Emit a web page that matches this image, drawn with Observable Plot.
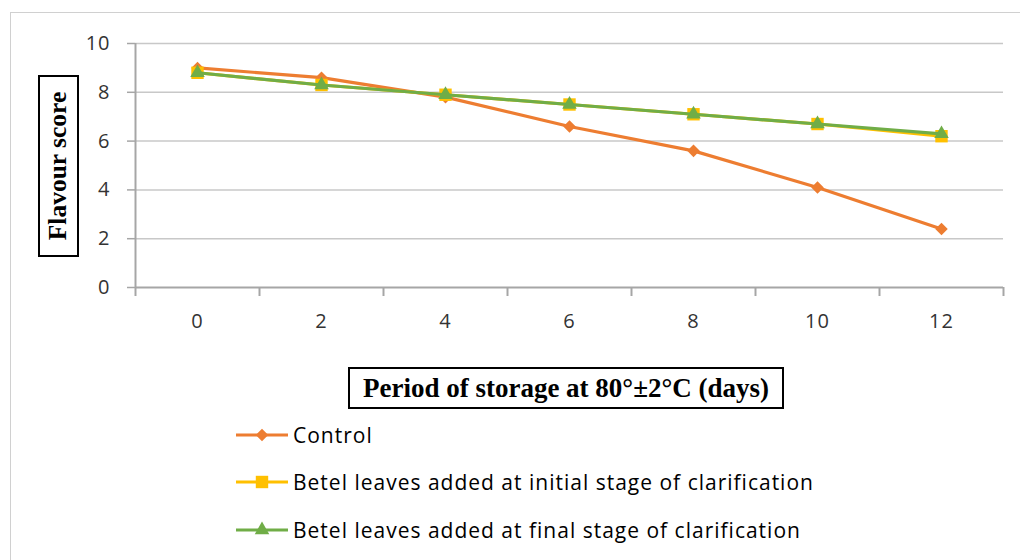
<!DOCTYPE html>
<html>
<head>
<meta charset="utf-8">
<script src="https://cdn.jsdelivr.net/npm/d3@7"></script>
<script src="https://cdn.jsdelivr.net/npm/@observablehq/plot@0.6"></script>
<style>
  html, body { margin: 0; padding: 0; background: #fff; }
  #wrap { position: relative; width: 1020px; height: 560px; overflow: hidden; }
  #frame { position: absolute; left: 10px; top: 12px; width: 1040px; height: 600px; border: 1.5px solid #d0d0d0; box-sizing: border-box; }
  #chart { position: absolute; left: 0; top: 0; }
  #chart svg text { letter-spacing: 1px; }
  .box { position: absolute; border: 2px solid #000; box-sizing: border-box; background: #fff;
         font-family: "Liberation Serif", "Times New Roman", serif; font-weight: bold; color: #000;
         display: flex; align-items: center; justify-content: center; white-space: nowrap; }
  #ytitle { left: 38px; top: 75px; width: 41px; height: 182px; }
  #ytitle span { transform: rotate(-90deg); font-size: 25.5px; display: inline-block; }
  #xtitle { left: 348px; top: 367px; width: 436px; height: 42px; font-size: 27px; }
  #legend { position: absolute; left: 234px; top: 411px; font-family: "Open Sans", sans-serif; font-size: 21px; letter-spacing: 1px; color: #000; }
  .item { display: flex; align-items: center; height: 47.5px; }
  .item svg { margin-right: 3px; }
</style>
</head>
<body>
<div id="wrap">
  <div id="frame"></div>
  <div id="chart"></div>
  <div id="ytitle" class="box"><span>Flavour score</span></div>
  <div id="xtitle" class="box">Period of storage at 80°±2°C (days)</div>
  <div id="legend"></div>
</div>
<script>
const days = [0, 2, 4, 6, 8, 10, 12];
const control = [9.0, 8.6, 7.8, 6.6, 5.6, 4.1, 2.4];
const initialStage = [8.8, 8.3, 7.9, 7.5, 7.1, 6.7, 6.2];
const finalStage = [8.8, 8.3, 7.9, 7.5, 7.1, 6.7, 6.3];
const seriesNames = [
  "Control",
  "Betel leaves added at initial stage of clarification",
  "Betel leaves added at final stage of clarification"
];
const seriesValues = [control, initialStage, finalStage];
const colors = ["#ED7D31", "#FFC000", "#70AD47"];
const yTicks = [0, 2, 4, 6, 8, 10];
const xBoundaries = [-1, 1, 3, 5, 7, 9, 11, 13];

// Excel-like diamond (rotated square)
const diamondSym = {
  draw(ctx, size) {
    const h = Math.sqrt(size / 2);
    ctx.moveTo(0, -h); ctx.lineTo(h, 0); ctx.lineTo(0, h); ctx.lineTo(-h, 0); ctx.closePath();
  }
};
const symbols = [diamondSym, "square", "triangle"];
const radii = [5, 7, 5.4];

const data = seriesNames.flatMap((s, i) => days.map((d, j) => ({series: s, day: d, value: seriesValues[i][j]})));

const font = "'Open Sans', sans-serif";
const marks = [
  Plot.ruleY(yTicks.filter(v => v > 0), {stroke: "#c8c8c8", strokeWidth: 1.5}),
  Plot.ruleY([0], {stroke: "#a6a6a6", strokeWidth: 2}),
  Plot.ruleX([-1], {stroke: "#a6a6a6", strokeWidth: 2}),
  Plot.axisX(xBoundaries, {tickSize: 9, tickFormat: () => "", stroke: "#a6a6a6", strokeWidth: 2, label: null}),
  Plot.axisX(days, {tickSize: 0, tickPadding: 26, fontSize: 20, fontFamily: font, fill: "#333", label: null}),
  Plot.axisY(yTicks, {tickSize: 8, tickPadding: 17, stroke: "#a6a6a6", strokeWidth: 1.5, fontSize: 20, fontFamily: font, fill: "#333", label: null})
];
seriesNames.forEach((s, i) => {
  const d = data.filter(r => r.series === s);
  marks.push(Plot.line(d, {x: "day", y: "value", stroke: colors[i], strokeWidth: 3.2}));
  marks.push(Plot.dot(d, {x: "day", y: "value", fill: colors[i], stroke: "none", symbol: () => symbols[i], r: radii[i]}));
});

const chart = Plot.plot({
  width: 1020,
  height: 345,
  marginLeft: 135,
  marginRight: 17,
  marginTop: 43,
  marginBottom: 58,
  x: {type: "linear", domain: [-1, 13], axis: null},
  y: {domain: [0, 10], axis: null},
  symbol: {type: "identity"},
  style: {background: "transparent", overflow: "visible"},
  marks
});
document.getElementById("chart").appendChild(chart);

// legend
const legend = document.getElementById("legend");
seriesNames.forEach((s, i) => {
  const item = document.createElement("div");
  item.className = "item";
  const sym = i === 0 ? d3.symbol(diamondSym, Math.PI * radii[0] ** 2)
            : i === 1 ? d3.symbol(d3.symbolSquare, Math.PI * radii[1] ** 2)
            : d3.symbol(d3.symbolTriangle, Math.PI * radii[2] ** 2);
  item.innerHTML = `<svg width="56" height="20"><line x1="2" x2="54" y1="10" y2="10" stroke="${colors[i]}" stroke-width="3.2"/><path transform="translate(28,10)" d="${sym()}" fill="${colors[i]}"/></svg><span>${s}</span>`;
  legend.appendChild(item);
});
</script>
</body>
</html>
